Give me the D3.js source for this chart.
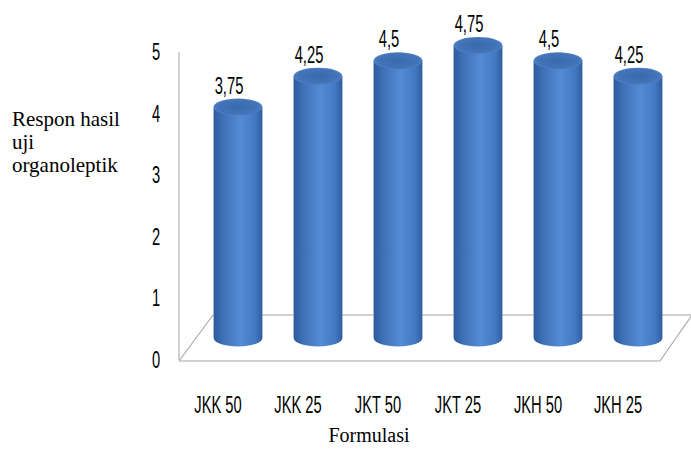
<!DOCTYPE html>
<html>
<head>
<meta charset="utf-8">
<script src="https://d3js.org/d3.v7.min.js"></script>
<style>
  body { margin: 0; background: #fff; }
  .tick-lbl { font-family: "Liberation Sans", Arial, sans-serif; font-size: 23px; fill: #000; }
  .serif { font-family: "Liberation Serif", "Times New Roman", serif; font-size: 20px; fill: #000; }
</style>
</head>
<body>
<div id="chart"></div>
<script>
  // data
  var categories = ["JKK 50", "JKK 25", "JKT 50", "JKT 25", "JKH 50", "JKH 25"];
  var values = [3.75, 4.25, 4.5, 4.75, 4.5, 4.25];
  var valueLabels = ["3,75", "4,25", "4,5", "4,75", "4,5", "4,25"];
  var yTicks = [0, 1, 2, 3, 4, 5];

  var W = 691, H = 451;
  var depthY = 22;   // how far the bars sit behind the front plane
  var narrow = 0.64; // squeeze sans text to look like a condensed face

  var svg = d3.select("#chart").append("svg")
      .attr("width", W).attr("height", H);

  var y = d3.scaleLinear().domain([0, 5]).range([360, 52]);
  var x = d3.scaleBand().domain(categories).range([198, 678])
      .paddingInner(0.39).paddingOuter(0.195);
  var cx = function (d) { return x(d) + x.bandwidth() / 2; };
  var rx = x.bandwidth() / 2, ry = 8.5;

  var defs = svg.append("defs");
  var bodyGrad = defs.append("linearGradient").attr("id", "body")
      .attr("x1", "0%").attr("x2", "100%").attr("y1", "0%").attr("y2", "0%");
  bodyGrad.append("stop").attr("offset", "0%").attr("stop-color", "#2d5a9a");
  bodyGrad.append("stop").attr("offset", "18%").attr("stop-color", "#3e6fb5");
  bodyGrad.append("stop").attr("offset", "55%").attr("stop-color", "#538bd4");
  bodyGrad.append("stop").attr("offset", "85%").attr("stop-color", "#4478c2");
  bodyGrad.append("stop").attr("offset", "100%").attr("stop-color", "#2f5d9e");

  var topGrad = defs.append("radialGradient").attr("id", "topcap")
      .attr("cx", "50%").attr("cy", "50%").attr("r", "55%");
  topGrad.append("stop").attr("offset", "0%").attr("stop-color", "#3a68ab");
  topGrad.append("stop").attr("offset", "75%").attr("stop-color", "#4373b9");
  topGrad.append("stop").attr("offset", "100%").attr("stop-color", "#5584c8");

  // wall / floor lines
  var grid = "#c3c3c3";
  svg.append("line").attr("x1", 179).attr("x2", 179).attr("y1", y(5)).attr("y2", y(0))
      .attr("stroke", grid).attr("stroke-width", 1.5);
  svg.append("line").attr("x1", 213).attr("x2", 692).attr("y1", 315).attr("y2", 315)
      .attr("stroke", grid).attr("stroke-width", 1.5);
  svg.append("line").attr("x1", 179).attr("x2", 213).attr("y1", y(0) + 1).attr("y2", 315)
      .attr("stroke", "#aaa").attr("stroke-width", 1.2);
  svg.append("line").attr("x1", 660).attr("x2", 692).attr("y1", y(0) + 1).attr("y2", 315)
      .attr("stroke", "#aaa").attr("stroke-width", 1.2);
  svg.append("line").attr("x1", 179).attr("x2", 660).attr("y1", y(0) + 1).attr("y2", y(0) + 1)
      .attr("stroke", grid).attr("stroke-width", 1.5);

  function place(px, py) {
    return "translate(" + px + "," + py + ") scale(" + narrow + ",1)";
  }

  // y tick labels
  svg.selectAll(".ytick").data(yTicks).enter().append("text")
      .attr("class", "tick-lbl")
      .attr("transform", function (d) { return place(156, y(d) + 8); })
      .attr("text-anchor", "middle")
      .text(function (d) { return d; });

  // cylinders
  var bars = svg.selectAll(".bar").data(categories).enter().append("g");

  bars.append("path")
      .attr("fill", "url(#body)")
      .attr("d", function (d, i) {
        var c = cx(d), yb = y(0) - depthY, yt = y(values[i]) - depthY;
        return "M" + (c - rx) + "," + yt +
          " L" + (c - rx) + "," + yb +
          " A" + rx + "," + ry + " 0 0 0 " + (c + rx) + "," + yb +
          " L" + (c + rx) + "," + yt + " Z";
      });

  bars.append("ellipse")
      .attr("cx", function (d) { return cx(d); })
      .attr("cy", function (d, i) { return y(values[i]) - depthY; })
      .attr("rx", rx).attr("ry", ry)
      .attr("fill", "url(#topcap)");

  // value labels
  svg.selectAll(".vlbl").data(categories).enter().append("text")
      .attr("class", "tick-lbl")
      .attr("transform", function (d, i) {
        return place(cx(d) - 9, y(values[i]) - depthY - ry - 5);
      })
      .attr("text-anchor", "middle")
      .text(function (d, i) { return valueLabels[i]; });

  // category labels
  svg.selectAll(".xlbl").data(categories).enter().append("text")
      .attr("class", "tick-lbl")
      .attr("transform", function (d) { return place(cx(d) - 20, 413); })
      .attr("text-anchor", "middle")
      .text(function (d) { return d; });

  // axis titles
  var yTitle = svg.append("text").attr("class", "serif")
      .style("font-size", "21px").attr("x", 12).attr("y", 126);
  yTitle.append("tspan").attr("x", 12).attr("dy", 0).text("Respon hasil");
  yTitle.append("tspan").attr("x", 12).attr("dy", 23).text("uji");
  yTitle.append("tspan").attr("x", 12).attr("dy", 23).text("organoleptik");

  svg.append("text").attr("class", "serif")
      .attr("x", 369).attr("y", 442).attr("text-anchor", "middle")
      .text("Formulasi");
</script>
</body>
</html>
